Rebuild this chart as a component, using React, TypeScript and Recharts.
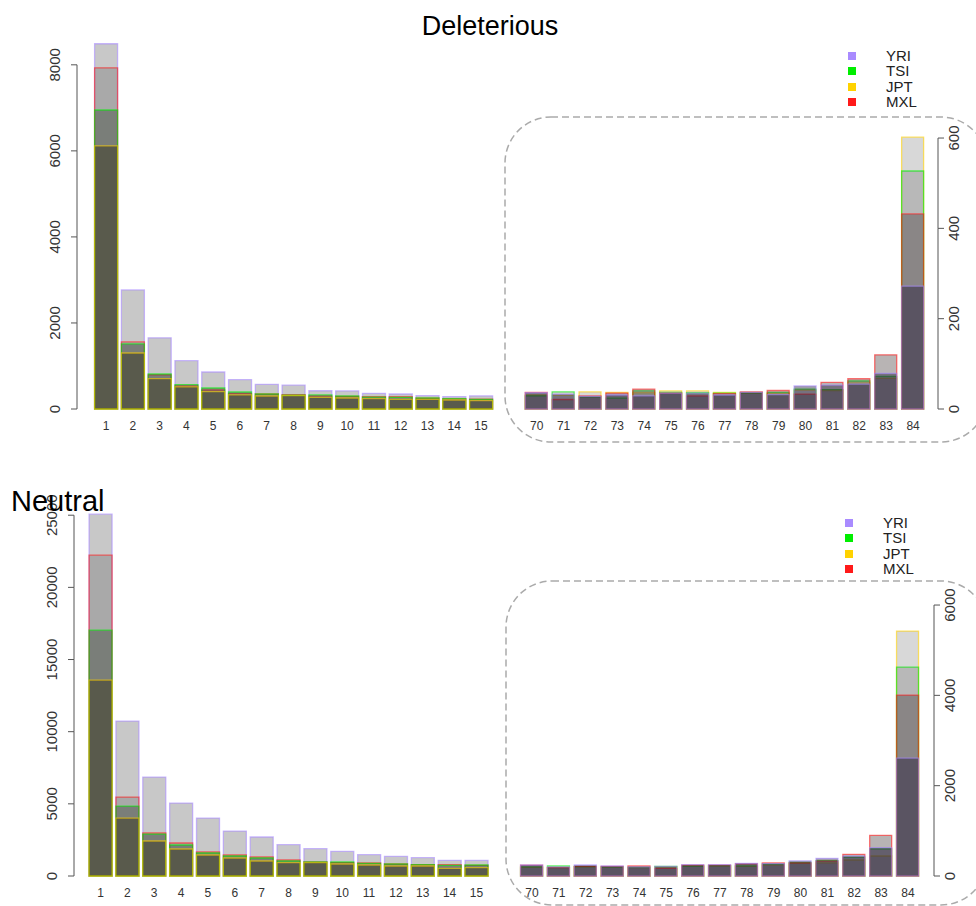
import React from 'react'
import { BarChart, Bar, XAxis, YAxis } from 'recharts'

type Pop = 'YRI' | 'TSI' | 'JPT' | 'MXL'

const POPS: Pop[] = ['YRI', 'TSI', 'JPT', 'MXL']
const LEFT_CATS = ['1', '2', '3', '4', '5', '6', '7', '8', '9', '10', '11', '12', '13', '14', '15']
const RIGHT_CATS = ['70', '71', '72', '73', '74', '75', '76', '77', '78', '79', '80', '81', '82', '83', '84']

// Deleterious, allele counts 1..15
const delLeftYRI = [8490, 2767, 1655, 1124, 860, 682, 574, 555, 424, 420, 364, 349, 310, 287, 305]
const delLeftTSI = [6950, 1512, 814, 565, 488, 395, 349, 320, 326, 302, 275, 270, 256, 240, 225]
const delLeftJPT = [6115, 1302, 705, 512, 403, 326, 302, 310, 271, 256, 240, 225, 225, 209, 194]
const delLeftMXL = [7930, 1558, 791, 535, 442, 357, 349, 335, 300, 290, 287, 287, 250, 235, 230]

// Deleterious, allele counts 70..84
const delRightYRI = [36, 33, 28, 31, 29, 35, 35, 31, 37, 32, 51, 53, 55, 79, 272]
const delRightTSI = [29, 38, 27, 24, 40, 37, 36, 35, 36, 37, 44, 43, 62, 72, 527]
const delRightJPT = [31, 30, 38, 37, 36, 40, 40, 37, 35, 34, 42, 41, 58, 68, 602]
const delRightMXL = [37, 21, 29, 35, 44, 35, 29, 34, 38, 41, 33, 59, 67, 120, 432]

// Neutral, allele counts 1..15
const neuLeftYRI = [25070, 10734, 6856, 5055, 4017, 3116, 2701, 2170, 1893, 1708, 1477, 1362, 1270, 1085, 1085]
const neuLeftTSI = [17036, 4848, 2908, 2147, 1593, 1385, 1247, 1039, 970, 970, 878, 832, 785, 740, 763]
const neuLeftJPT = [13573, 4017, 2424, 1870, 1454, 1247, 1039, 924, 924, 832, 763, 693, 693, 531, 578]
const neuLeftMXL = [22230, 5471, 2978, 2285, 1662, 1454, 1316, 1108, 970, 924, 900, 832, 785, 785, 740]

// Neutral, allele counts 70..84
const neuRightYRI = [244, 200, 244, 221, 200, 215, 250, 250, 280, 275, 335, 391, 440, 627, 2612]
const neuRightTSI = [200, 221, 210, 200, 195, 210, 220, 230, 225, 260, 300, 340, 420, 600, 4627]
const neuRightJPT = [190, 190, 205, 195, 185, 200, 225, 220, 215, 240, 280, 290, 354, 443, 5424]
const neuRightMXL = [240, 185, 215, 215, 221, 170, 240, 240, 270, 290, 290, 330, 480, 900, 4007]

const DEL_LEFT_TICKS = [0, 2000, 4000, 6000, 8000]
const DEL_RIGHT_TICKS = [0, 200, 400, 600]
const NEU_LEFT_TICKS = [0, 5000, 10000, 15000, 20000, 25000]
const NEU_RIGHT_TICKS = [0, 2000, 4000, 6000]

const FONT = '"Liberation Sans", Arial, Helvetica, sans-serif'
const AXIS = '#555'

const POP_COLORS: Record<Pop, string> = {
  YRI: '#a98bff',
  TSI: '#00ee00',
  JPT: '#ffd200',
  MXL: '#ff1a1a',
}

// fill per draw level (first drawn = tallest bar)
const LEFT_LAYERS = [
  { fill: 'rgb(128,128,128)', opacity: 0.43 },
  { fill: 'rgb(100,100,100)', opacity: 0.3 },
  { fill: 'rgb(52,62,50)', opacity: 0.4 },
  { fill: 'rgb(40,37,9)', opacity: 0.4 },
]
const RIGHT_LAYERS = [
  { fill: 'rgb(128,128,128)', opacity: 0.31 },
  { fill: 'rgb(100,100,100)', opacity: 0.28 },
  { fill: 'rgb(52,41,41)', opacity: 0.35 },
  { fill: 'rgb(18,9,44)', opacity: 0.4 },
]

type Row = { k: string } & Record<Pop, number>

const toRows = (cats: string[], yri: number[], tsi: number[], jpt: number[], mxl: number[]): Row[] =>
  cats.map((k, i) => ({ k, YRI: yri[i], TSI: tsi[i], JPT: jpt[i], MXL: mxl[i] }))

interface PanelProps {
  rows: Row[]
  order: Pop[]
  layers: { fill: string; opacity: number }[]
  side: 'left' | 'right'
  left: number
  top: number
  width: number
  height: number
  margin: { top: number; right: number; bottom: number; left: number }
  axisWidth: number
  xHeight: number
  padding: { left: number; right: number }
  barSize: number
  yMax: number
  ticks: number[]
}

const makeYTick = (side: 'left' | 'right', stepPx: number, last: number) => (props: any) => {
  const { x, y, payload } = props
  const dir = side === 'left' ? -1 : 1
  return (
    <g>
      <line x1={x} x2={x + dir * 6} y1={y} y2={y} stroke={AXIS} />
      {payload.value !== last && <line x1={x} x2={x} y1={y} y2={y - stepPx} stroke={AXIS} />}
      <text
        transform={`translate(${x},${y}) rotate(-90)`}
        x={0}
        y={side === 'left' ? -17 : 20.5}
        textAnchor="middle"
        fontSize={15}
        fill="#333"
        fontFamily={FONT}
      >
        {payload.value}
      </text>
    </g>
  )
}

function Panel(p: PanelProps) {
  const plotH = p.height - p.margin.top - p.margin.bottom - p.xHeight
  const step = p.ticks[1] - p.ticks[0]
  const stepPx = (plotH * step) / p.yMax
  const YTick = makeYTick(p.side, stepPx, p.ticks[p.ticks.length - 1])
  return (
    <div style={{ position: 'absolute', left: p.left, top: p.top }}>
      <BarChart width={p.width} height={p.height} data={p.rows} margin={p.margin}>
        {p.order.map((pop, i) => (
          <XAxis
            key={`x-${pop}`}
            xAxisId={pop}
            dataKey="k"
            hide={i !== 0}
            height={i === 0 ? p.xHeight : 0}
            padding={p.padding}
            axisLine={false}
            tickLine={false}
            tickSize={10}
            tickMargin={2}
            interval={0}
            tick={{ fill: '#333', fontSize: 12, fontFamily: FONT }}
          />
        ))}
        <YAxis
          orientation={p.side}
          width={p.axisWidth}
          type="number"
          domain={[0, p.yMax]}
          ticks={p.ticks}
          interval={0}
          axisLine={false}
          tickLine={false}
          tickSize={0}
          tickMargin={0}
          tick={YTick}
        />
        {p.order.map((pop, i) => (
          <Bar
            key={pop}
            dataKey={pop}
            xAxisId={pop}
            barSize={p.barSize}
            fill={p.layers[i].fill}
            fillOpacity={p.layers[i].opacity}
            stroke={POP_COLORS[pop]}
            strokeOpacity={0.6}
            strokeWidth={1.3}
            isAnimationActive={false}
          />
        ))}
      </BarChart>
    </div>
  )
}

function LegendBox({ left, top }: { left: number; top: number }) {
  return (
    <div style={{ position: 'absolute', left, top, fontFamily: FONT, fontSize: 15, color: '#222' }}>
      {POPS.map((pop, i) => (
        <div key={pop} style={{ position: 'absolute', top: i * 15.4, left: 0, height: 16, width: 80 }}>
          <div
            style={{
              position: 'absolute',
              left: -4,
              top: -4,
              width: 8,
              height: 8,
              background: POP_COLORS[pop],
            }}
          />
          <div style={{ position: 'absolute', left: 34, top: -9, lineHeight: '17px' }}>{pop}</div>
        </div>
      ))}
    </div>
  )
}

const delLeftRows = toRows(LEFT_CATS, delLeftYRI, delLeftTSI, delLeftJPT, delLeftMXL)
const delRightRows = toRows(RIGHT_CATS, delRightYRI, delRightTSI, delRightJPT, delRightMXL)
const neuLeftRows = toRows(LEFT_CATS, neuLeftYRI, neuLeftTSI, neuLeftJPT, neuLeftMXL)
const neuRightRows = toRows(RIGHT_CATS, neuRightYRI, neuRightTSI, neuRightJPT, neuRightMXL)

const LEFT_ORDER: Pop[] = ['YRI', 'MXL', 'TSI', 'JPT']
const RIGHT_ORDER: Pop[] = ['JPT', 'TSI', 'MXL', 'YRI']

export default function App() {
  return (
    <div
      style={{
        position: 'absolute',
        left: 0,
        top: 0,
        width: 976,
        height: 906,
        overflow: 'hidden',
        background: '#fff',
        fontFamily: FONT,
      }}
    >
      <svg width={976} height={906} style={{ position: 'absolute', left: 0, top: 0 }}>
        <rect x={505} y={117} width={482} height={325} rx={46} fill="none" stroke="#aaa" strokeWidth={1.5} strokeDasharray="7 4" />
        <rect x={506} y={581} width={481} height={324} rx={46} fill="none" stroke="#aaa" strokeWidth={1.5} strokeDasharray="7 4" />
      </svg>

      <Panel
        rows={delLeftRows}
        order={LEFT_ORDER}
        layers={LEFT_LAYERS}
        side="left"
        left={0}
        top={0}
        width={520}
        height={450}
        margin={{ top: 39, right: 10.6, bottom: 0, left: 0 }}
        axisWidth={77}
        xHeight={41}
        padding={{ left: 15.6, right: 15 }}
        barSize={23}
        yMax={8600}
        ticks={DEL_LEFT_TICKS}
      />
      <Panel
        rows={delRightRows}
        order={RIGHT_ORDER}
        layers={RIGHT_LAYERS}
        side="right"
        left={500}
        top={0}
        width={476}
        height={450}
        margin={{ top: 129, right: 0, bottom: 0, left: 23.25 }}
        axisWidth={38}
        xHeight={41}
        padding={{ left: 0, right: 11.5 }}
        barSize={22}
        yMax={620}
        ticks={DEL_RIGHT_TICKS}
      />
      <Panel
        rows={neuLeftRows}
        order={LEFT_ORDER}
        layers={LEFT_LAYERS}
        side="left"
        left={0}
        top={450}
        width={520}
        height={456}
        margin={{ top: 58, right: 15.1, bottom: 0, left: 0 }}
        axisWidth={74}
        xHeight={30}
        padding={{ left: 13.07, right: 15 }}
        barSize={23}
        yMax={25500}
        ticks={NEU_LEFT_TICKS}
      />
      <Panel
        rows={neuRightRows}
        order={RIGHT_ORDER}
        layers={RIGHT_LAYERS}
        side="right"
        left={500}
        top={450}
        width={476}
        height={456}
        margin={{ top: 146, right: 0, bottom: 0, left: 18.57 }}
        axisWidth={42}
        xHeight={30}
        padding={{ left: 0, right: 12.6 }}
        barSize={22}
        yMax={6200}
        ticks={NEU_RIGHT_TICKS}
      />

      <LegendBox left={852} top={56} />
      <LegendBox left={849} top={523} />

      <div style={{ position: 'absolute', left: 490, top: 40, transform: 'translate(-50%, -100%)', fontSize: 27, lineHeight: '27px', color: '#000', whiteSpace: 'nowrap' }}>
        Deleterious
      </div>
      <div style={{ position: 'absolute', left: 11, top: 516, transform: 'translateY(-100%)', fontSize: 29, lineHeight: '29px', color: '#000', whiteSpace: 'nowrap' }}>
        Neutral
      </div>
    </div>
  )
}
